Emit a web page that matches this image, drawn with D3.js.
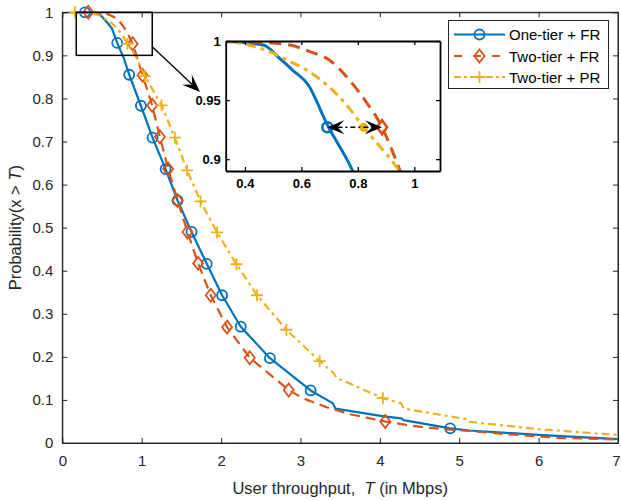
<!DOCTYPE html>
<html><head><meta charset="utf-8">
<script src="https://cdn.jsdelivr.net/npm/d3@7/dist/d3.min.js"></script>
<style>body{margin:0;background:#fff}svg{display:block}text{font-family:"Liberation Sans",Arial,sans-serif}</style>
</head><body><svg id="c" width="621" height="500"></svg>
<script>
// ---- data ----
const seriesNames = ["One-tier + FR", "Two-tier + FR", "Two-tier + PR"];
const oneTierFRLine = [[0.15,1.0],[0.33,0.9995],[0.465,0.9966],[0.524,0.985],[0.571,0.975],[0.624,0.963],[0.692,0.929],[0.778,0.892],[0.843,0.855],[0.990,0.783],[1.137,0.709],[1.301,0.636],[1.452,0.563],[1.628,0.490],[1.820,0.416],[2.013,0.343],[2.248,0.270],[2.615,0.197],[3.128,0.122],[3.41,0.092],[3.44,0.080],[4.05,0.062],[4.27,0.057],[4.30,0.053],[4.886,0.034],[5.13,0.029],[6.0,0.019],[7.0,0.009]];
const oneTierFRMarkers = [[0.285,1.0],[0.692,0.929],[0.843,0.855],[0.990,0.783],[1.137,0.709],[1.301,0.636],[1.452,0.563],[1.628,0.490],[1.820,0.416],[2.013,0.343],[2.248,0.270],[2.615,0.197],[3.128,0.122],[4.886,0.034]];
const twoTierFRLine = [[0.15,1.0],[0.327,1.0],[0.418,0.9994],[0.560,0.9966],[0.630,0.991],[0.699,0.984],[0.770,0.967],[0.829,0.9486],[0.886,0.927],[0.917,0.910],[0.940,0.896],[1.011,0.854],[1.132,0.784],[1.229,0.711],[1.334,0.636],[1.452,0.563],[1.577,0.490],[1.711,0.417],[1.870,0.343],[2.075,0.269],[2.361,0.198],[2.852,0.123],[3.03,0.104],[3.33,0.083],[3.62,0.067],[3.83,0.059],[4.068,0.050],[4.33,0.042],[4.58,0.036],[5.04,0.029],[5.63,0.020],[6.26,0.012],[7.0,0.008]];
const twoTierFRMarkers = [[0.327,1.0],[0.886,0.927],[1.011,0.854],[1.132,0.784],[1.229,0.711],[1.334,0.636],[1.452,0.563],[1.577,0.490],[1.711,0.417],[1.870,0.343],[2.075,0.269],[2.361,0.198],[2.852,0.123],[4.068,0.050]];
const twoTierPRLine = [[0.15,1.0],[0.333,0.9994],[0.477,0.992],[0.548,0.984],[0.628,0.974],[0.699,0.961],[0.770,0.943],[0.820,0.927],[0.888,0.908],[0.937,0.8935],[1.040,0.852],[1.250,0.784],[1.418,0.709],[1.572,0.633],[1.741,0.561],[1.950,0.489],[2.194,0.415],[2.453,0.343],[2.823,0.263],[3.242,0.190],[3.42,0.162],[3.45,0.152],[4.038,0.104],[4.27,0.092],[4.30,0.080],[5.10,0.055],[5.13,0.049],[6.01,0.032],[7.0,0.0186]];
const twoTierPRMarkers = [[0.16,1.0],[0.820,0.927],[1.040,0.852],[1.250,0.784],[1.418,0.709],[1.572,0.633],[1.741,0.561],[1.950,0.489],[2.194,0.415],[2.453,0.343],[2.823,0.263],[3.242,0.190],[4.038,0.104]];
const xTicks = [0,1,2,3,4,5,6,7];
const yTicks = [0,0.1,0.2,0.3,0.4,0.5,0.6,0.7,0.8,0.9,1];
const insetXTicks = [0.4,0.6,0.8,1];
const insetYTicks = [0.9,0.95,1];
const zoomBox = [[0.176,0.9],[1.133,1.0]];
const insetArrow = [[0.692,0.927],[0.886,0.927]];
const insetPRDot = [0.82,0.927];

// ---- setup ----
const colors = ["#0072BD","#D95319","#EDB120"];
const dashes = [null,"10,6","8,4,3,4"];
const markerKinds = ["circle","diamond","plus"];
const axisColor = "#262626";
const svg = d3.select("#c");
const x = d3.scaleLinear().domain([0,7]).range([62.3,618]);
const y = d3.scaleLinear().domain([0,1]).range([443,12.3]);
const ix = d3.scaleLinear().domain([0.332,1.091]).range([225.7,440]);
const iy = d3.scaleLinear().domain([0.89,1]).range([171,41]);

const lines = [oneTierFRLine,twoTierFRLine,twoTierPRLine];
const markers = [oneTierFRMarkers,twoTierFRMarkers,twoTierPRMarkers];

function drawMarker(g, kind, cx, cy, color){
  if(kind==="circle"){
    g.append("circle").attr("cx",cx).attr("cy",cy).attr("r",5).attr("fill","none").attr("stroke",color).attr("stroke-width",1.8);
  } else if(kind==="diamond"){
    g.append("path").attr("d",`M${cx},${cy-6.5}L${cx+5},${cy}L${cx},${cy+6.5}L${cx-5},${cy}Z`).attr("fill","none").attr("stroke",color).attr("stroke-width",1.8);
  } else {
    g.append("path").attr("d",`M${cx-6},${cy}H${cx+6}M${cx},${cy-6}V${cy+6}`).attr("fill","none").attr("stroke",color).attr("stroke-width",1.8);
  }
}

// axes frame
const fg = svg.append("g");
fg.append("rect").attr("x",x(0)).attr("y",y(1)).attr("width",x(7)-x(0)).attr("height",y(0)-y(1)).attr("fill","#fff").attr("stroke",axisColor).attr("stroke-width",1);

const xAxis = svg.append("g").attr("transform",`translate(0,${y(0)})`)
  .call(d3.axisBottom(x).tickValues(xTicks).tickSizeInner(-5).tickSizeOuter(0).tickPadding(12).tickFormat(d3.format("d")));
xAxis.selectAll(".tick text").filter(d=>d===7).attr("dx",-2);
const xAxisTop = svg.append("g").attr("transform",`translate(0,${y(1)})`)
  .call(d3.axisTop(x).tickValues(xTicks).tickSizeInner(-5).tickSizeOuter(0).tickFormat(""));
const yAxis = svg.append("g").attr("transform",`translate(${x(0)},0)`)
  .call(d3.axisLeft(y).tickValues(yTicks).tickSizeInner(-5).tickSizeOuter(0).tickPadding(9).tickFormat(d=>d3.format("")(+d.toFixed(1))));
const yAxisR = svg.append("g").attr("transform",`translate(${x(7)},0)`)
  .call(d3.axisRight(y).tickValues(yTicks).tickSizeInner(-5).tickSizeOuter(0).tickFormat(""));
[xAxis,xAxisTop,yAxis,yAxisR].forEach(a=>{
  a.select(".domain").attr("stroke",axisColor);
  a.selectAll(".tick line").attr("stroke",axisColor);
  a.selectAll(".tick text").attr("fill",axisColor).attr("font-size",15).attr("font-family","Liberation Sans, Arial, sans-serif");
});

// series
const lineGen = d3.line().x(d=>x(d[0])).y(d=>y(d[1]));
lines.forEach((ln,i)=>{
  const g = svg.append("g");
  g.append("path").attr("d",lineGen(ln)).attr("fill","none").attr("stroke",colors[i]).attr("stroke-width",2.2)
    .attr("stroke-linejoin","round").attr("stroke-dasharray",dashes[i]);
  markers[i].forEach(m=>drawMarker(g,markerKinds[i],x(m[0]),y(m[1]),colors[i]));
});

// axis labels
svg.append("text").attr("x",(x(0)+x(7))/2).attr("y",494).attr("text-anchor","middle").attr("font-size",16.5).attr("fill",axisColor)
  .html('User throughput,&#160; <tspan font-style="italic">T</tspan> (in Mbps)');
svg.append("text").attr("transform",`translate(21,${(y(0)+y(1))/2}) rotate(-90)`).attr("text-anchor","middle").attr("font-size",16.5).attr("fill",axisColor)
  .html('Probability(x &gt; <tspan font-style="italic">T</tspan>)');

// zoom box and arrow
svg.append("rect").attr("x",x(zoomBox[0][0])).attr("y",y(zoomBox[1][1])).attr("width",x(zoomBox[1][0])-x(zoomBox[0][0])).attr("height",y(zoomBox[0][1])-y(zoomBox[1][1]))
  .attr("fill","none").attr("stroke","#000").attr("stroke-width",1.5);
function arrowHead(g,x1,y1,x2,y2,len,hw){
  const a = Math.atan2(y2-y1,x2-x1), c=Math.cos(a), s=Math.sin(a);
  const bx = x2-len*c, by=y2-len*s;
  const mx = x2-len*0.6*c, my=y2-len*0.6*s;
  g.append("path").attr("d",`M${x2},${y2}L${bx-hw*s},${by+hw*c}L${mx},${my}L${bx+hw*s},${by-hw*c}Z`).attr("fill","#000");
}
{
  const g = svg.append("g");
  const x1=x(zoomBox[1][0]), y1=46.7, x2=200, y2=92;
  g.append("line").attr("x1",x1).attr("y1",y1).attr("x2",x2-8).attr("y2",y2-7.7).attr("stroke","#000").attr("stroke-width",1.3);
  arrowHead(g,x1,y1,x2,y2,18,7);
}

// legend
{
  const lg = svg.append("g");
  lg.append("rect").attr("x",448.5).attr("y",20.5).attr("width",160).attr("height",68).attr("fill","#fff").attr("stroke",axisColor).attr("stroke-width",1);
  const ys=[34.5,56,77];
  seriesNames.forEach((n,i)=>{
    lg.append("line").attr("x1",454).attr("x2",505).attr("y1",ys[i]).attr("y2",ys[i]).attr("stroke",colors[i]).attr("stroke-width",2.2).attr("stroke-dasharray",dashes[i]?(i===1?"8,11":"7,3,3,3"):null);
    drawMarker(lg,markerKinds[i],479.5,ys[i],colors[i]);
    lg.append("text").attr("x",509).attr("y",ys[i]+5.5).attr("font-size",15).attr("fill","#000").text(n);
  });
}

// inset
{
  const g = svg.append("g");
  g.append("rect").attr("x",ix.range()[0]).attr("y",iy.range()[1]).attr("width",ix.range()[1]-ix.range()[0]).attr("height",iy.range()[0]-iy.range()[1]).attr("fill","#fff");
  svg.append("clipPath").attr("id","ic").append("rect").attr("x",ix.range()[0]).attr("y",iy.range()[1]).attr("width",ix.range()[1]-ix.range()[0]).attr("height",iy.range()[0]-iy.range()[1]);
  const lg = d3.line().x(d=>ix(d[0])).y(d=>iy(d[1])).curve(d3.curveMonotoneX);
  const cg = g.append("g").attr("clip-path","url(#ic)");
  lines.forEach((ln,i)=>{
    cg.append("path").attr("d",lg(ln)).attr("fill","none").attr("stroke",colors[i]).attr("stroke-width",3).attr("stroke-dasharray",dashes[i]?(i===1?"12,7":"10,5,4,5"):null);
  });
  cg.append("circle").attr("cx",ix(insetArrow[0][0])).attr("cy",iy(insetArrow[0][1])).attr("r",5).attr("fill","none").attr("stroke",colors[0]).attr("stroke-width",2.5);
  cg.append("path").attr("d",`M${ix(insetArrow[1][0])},${iy(insetArrow[1][1])-7}l5,7l-5,7l-5,-7Z`).attr("fill","none").attr("stroke",colors[1]).attr("stroke-width",2.5);
  cg.append("circle").attr("cx",ix(insetPRDot[0])).attr("cy",iy(insetPRDot[1])).attr("r",4.5).attr("fill",colors[2]);
  const ax1=ix(insetArrow[0][0]), ax2=ix(insetArrow[1][0]), ay=iy(insetArrow[0][1]);
  g.append("line").attr("x1",ax1+10).attr("x2",ax2-10).attr("y1",ay).attr("y2",ay).attr("stroke","#000").attr("stroke-width",1.3).attr("stroke-dasharray","5,3,2,3");
  arrowHead(g,ax2,ay,ax1,ay,17,7);
  arrowHead(g,ax1,ay,ax2,ay,17,7);
  const ib = g.append("g").attr("transform",`translate(0,${iy.range()[0]})`).call(d3.axisBottom(ix).tickValues(insetXTicks).tickSizeInner(-4).tickSizeOuter(0).tickPadding(8).tickFormat(d=>String(d)));
  const it = g.append("g").attr("transform",`translate(0,${iy.range()[1]})`).call(d3.axisTop(ix).tickValues(insetXTicks).tickSizeInner(-4).tickSizeOuter(0).tickFormat(""));
  const il = g.append("g").attr("transform",`translate(${ix.range()[0]},0)`).call(d3.axisLeft(iy).tickValues(insetYTicks).tickSizeInner(-4).tickSizeOuter(0).tickPadding(5).tickFormat(d=>String(d)));
  const ir = g.append("g").attr("transform",`translate(${ix.range()[1]},0)`).call(d3.axisRight(iy).tickValues(insetYTicks).tickSizeInner(-4).tickSizeOuter(0).tickFormat(""));
  [ib,it,il,ir].forEach(a=>{
    a.select(".domain").attr("stroke","#000").attr("stroke-width",1.8);
    a.selectAll(".tick line").attr("stroke","#000").attr("stroke-width",1.3);
    a.selectAll(".tick text").attr("fill","#000").attr("font-size",13).attr("font-weight","bold").attr("font-family","Liberation Sans, Arial, sans-serif");
  });
}
</script></body></html>
